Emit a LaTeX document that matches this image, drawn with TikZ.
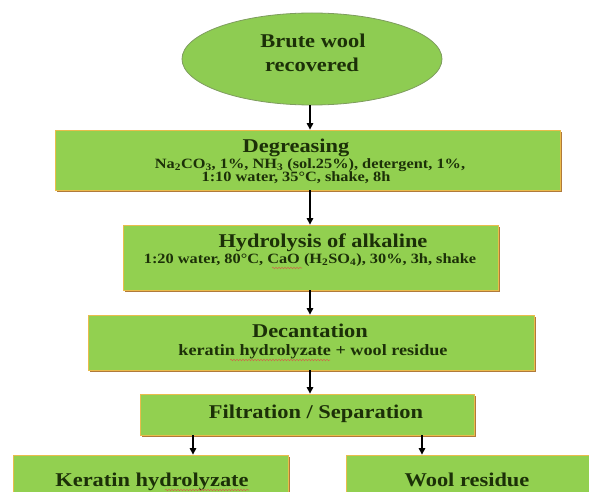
\documentclass[tikz,border=0pt]{standalone}
\usepackage{fontspec}
\setmainfont{Liberation Serif}[FakeStretch=1.15]
\usetikzlibrary{arrows.meta,shapes.geometric,shadows,decorations.pathmorphing}
\definecolor{boxgreen}{HTML}{92D050}
\definecolor{ellgreen}{HTML}{8ECC52}
\definecolor{ellline}{HTML}{7E9C5E}
\definecolor{edgeyellow}{HTML}{E9BC4C}
\definecolor{shadowbrown}{HTML}{B07A3A}
\definecolor{txt}{HTML}{1C3008}
\definecolor{squig}{HTML}{C8704A}
\begin{document}
\begin{tikzpicture}[x=1pt,y=-1pt,
  box/.style={rectangle, fill=boxgreen, draw=edgeyellow, line width=0.8pt, inner sep=0pt,
    drop shadow={shadow xshift=1.6pt, shadow yshift=-2.2pt, fill=shadowbrown, opacity=1}},
  ttl/.style={font=\fontsize{19.5}{21}\selectfont\bfseries, text=txt, inner sep=0pt, anchor=base},
  sub/.style={font=\fontsize{14.2}{15}\selectfont\bfseries, text=txt, inner sep=0pt, anchor=base},
  subb/.style={font=\fontsize{15.8}{17}\selectfont\bfseries, text=txt, inner sep=0pt, anchor=base},
  arr/.style={-{Triangle[width=6.5pt,length=6.5pt]}, line width=1.1pt, black},
  wavy/.style={draw=squig, line width=0.6pt, decorate, decoration={snake, amplitude=0.7pt, segment length=3pt}}]
\useasboundingbox (0,0) rectangle (589,492);
\clip (0,0) rectangle (589,492);
\fill[white] (0,0) rectangle (589,492);

% shapes
\node[ellipse, fill=ellgreen, draw=ellline, line width=0.8pt, minimum width=260pt, minimum height=92pt, inner sep=0pt] (ell) at (312,59) {};
\node[box, minimum width=505pt, minimum height=60pt] (deg) at (307.5,160) {};
\node[box, minimum width=375pt, minimum height=65pt] (hyd) at (310.5,257.5) {};
\node[box, minimum width=446pt, minimum height=55pt] (dec) at (311,342.5) {};
\node[box, minimum width=334pt, minimum height=41pt] (fil) at (307,414.5) {};
\node[box, minimum width=275pt, minimum height=50pt] (ker) at (150.5,480) {};
\node[box, minimum width=260pt, minimum height=50pt] (wool) at (476,480) {};

% texts
\node[ttl] (ellt1) at (313,48) {Brute wool};
\node[ttl] (ellt2) at (312,72) {recovered};
\node[ttl] (degt1) at (296,153) {Degreasing};
\node[sub] (degt2) at (310,168) {Na\textsubscript{2}CO\textsubscript{3}, 1\%, NH\textsubscript{3} (sol.25\%), detergent, 1\%,};
\node[sub] (degt3) at (296,182) {1:10 water, 35°C, shake, 8h};
\node[ttl] (hydt1) at (323,247) {Hydrolysis of alkaline};
\node[sub] (hydt2) at (310,263) {1:20 water, 80°C, CaO (H\textsubscript{2}SO\textsubscript{4}), 30\%, 3h, shake};
\node[ttl] (dect1) at (310,337) {Decantation};
\node[subb] (dect2) at (313,355) {keratin hydrolyzate + wool residue};
\node[ttl] (filt1) at (316,418) {Filtration / Separation};
\node[ttl] (kert1) at (152,486) {Keratin hydrolyzate};
\node[ttl] (woolt1) at (467,486) {Wool residue};

% spell-check squiggles
\draw[wavy] (272,268) -- (302,268);
\draw[wavy] (230,360) -- (330,360);
\draw[wavy] (165,490) -- (249,490);

% connectors
\coordinate (ax) at (310,0);
\coordinate (lx) at (193,0);
\coordinate (rx) at (422,0);
\draw[arr] (ell.south -| ax) -- (deg.north -| ax);
\draw[arr] (deg.south -| ax) -- (hyd.north -| ax);
\draw[arr] (hyd.south -| ax) -- (dec.north -| ax);
\draw[arr] (dec.south -| ax) -- (fil.north -| ax);
\draw[arr] (fil.south -| lx) -- (ker.north -| lx);
\draw[arr] (fil.south -| rx) -- (wool.north -| rx);
\end{tikzpicture}
\end{document}
